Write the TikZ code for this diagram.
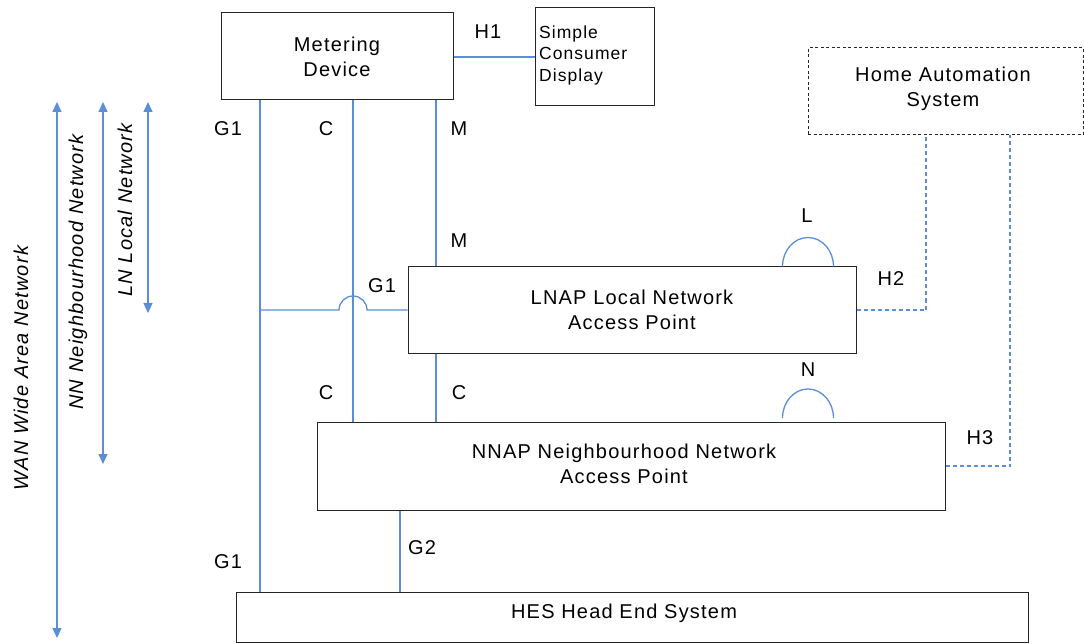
\documentclass[tikz,border=0pt]{standalone}
\usepackage{fontspec}
\setmainfont{Liberation Sans}[LetterSpace=6]
\usetikzlibrary{arrows.meta,calc}
\definecolor{lnblue}{HTML}{5B8ED6}
\begin{document}
\begin{tikzpicture}[x=1pt,y=-1pt,
  box/.style={draw=black!85, line width=1pt, inner sep=0pt, align=center, font=\fontsize{20}{25}\selectfont},
  dbox/.style={box, dashed, dash pattern=on 3pt off 2.5pt},
  lnk/.style={draw=lnblue, line width=1.3pt},
  dlnk/.style={lnk, dash pattern=on 4pt off 3pt},
  lab/.style={font=\fontsize{20}{22}\selectfont, inner sep=1pt},
  rng/.style={lnk, {Triangle[width=9pt,length=10pt]}-{Triangle[width=9pt,length=10pt]}},
  rlab/.style={font=\itshape\fontsize{20}{22}\selectfont, rotate=90, inner sep=0pt, anchor=base}]
\useasboundingbox (0,0) rectangle (1084,644);
% boxes
\node[box, minimum width=232, minimum height=87] (md) at (337,56.5) {Metering\\Device};
\node[box, minimum width=119, minimum height=98] (scd) at (594.5,57) {};
\node[anchor=west, align=left, font=\fontsize{17.5}{21.5}\selectfont, inner sep=0pt] (scdt) at (539,55) {Simple\\Consumer\\Display};
\node[dbox, minimum width=275, minimum height=87] (has) at (945.5,91.5) {};
\node[font=\fontsize{20}{25}\selectfont, align=center, inner sep=0pt] (hast) at (943,88.5) {Home Automation\\System};
\node[box, minimum width=448, minimum height=86] (lnap) at (632,310) {LNAP Local Network\\Access Point};
\node[box, minimum width=628, minimum height=88] (nnap) at (631,466) {};
\node[font=\fontsize{20}{25}\selectfont, align=center, inner sep=0pt] (nnapt) at (624,463.5) {NNAP Neighbourhood Network\\Access Point};
\node[box, minimum width=792, minimum height=50] (hes) at (632,617) {};
\node[font=\fontsize{20}{25}\selectfont, inner sep=0pt] (hest) at (624,613) {HES Head End System};
% x positions
\coordinate (xg1) at (260,0);
\coordinate (xc) at (353,0);
\coordinate (xm) at (436,0);
\coordinate (xg2) at (400,0);
\coordinate (xh2) at (926,0);
\coordinate (xh3) at (1010,0);
\coordinate (xl) at (808,0);
\coordinate (yn) at (0,418);
% solid links
\draw[lnk] (xg1 |- md.south) -- (xg1 |- hes.north);
\draw[lnk] (xc |- md.south) -- (xc |- nnap.north);
\draw[lnk] (xm |- md.south) -- (xm |- lnap.north);
\draw[lnk] (xm |- lnap.south) -- (xm |- nnap.north);
\draw[lnk] (xg2 |- nnap.south) -- (xg2 |- hes.north);
\draw[lnk] (md.east |- scd.west) -- (scd.west);
\draw[lnk] (xg1 |- lnap.west) -- ([xshift=-14pt]xc |- lnap.west) arc[start angle=180, end angle=360, radius=14] -- (lnap.west);
\draw[lnk] ([xshift=-25.5pt]xl |- lnap.north) arc[start angle=180, end angle=360, x radius=25.5, y radius=29];
\draw[lnk] ([xshift=-25.5pt]xl |- yn) arc[start angle=180, end angle=360, x radius=25.5, y radius=29];
% dashed links
\draw[dlnk] (lnap.east) -- (xh2 |- lnap.east) -- (xh2 |- has.south);
\draw[dlnk] (nnap.east) -- (xh3 |- nnap.east) -- (xh3 |- has.south);
% labels
\node[lab] (lh1) at (488,32) {H1};
\node[lab] (lg1a) at (228,129) {G1};
\node[lab] (lca) at (326,129) {C};
\node[lab] (lma) at (459,129) {M};
\node[lab] (lmb) at (459,241) {M};
\node[lab] (ll) at (807,216) {L};
\node[lab] (lg1b) at (382,286) {G1};
\node[lab] (lh2) at (891,279) {H2};
\node[lab] (lcb) at (326,393) {C};
\node[lab] (lcc) at (459,393) {C};
\node[lab] (ln) at (808,370) {N};
\node[lab] (lh3) at (980,438) {H3};
\node[lab] (lg1c) at (228,562) {G1};
\node[lab] (lg2) at (422,548) {G2};
% range arrows
\coordinate (wt) at (57,102);
\coordinate (wb) at (57,638);
\coordinate (nt) at (103,102);
\coordinate (nb) at (103,464);
\coordinate (lt) at (148,102);
\coordinate (lb) at (148,313);
\draw[rng] (wt) -- (wb);
\draw[rng] (nt) -- (nb);
\draw[rng] (lt) -- (lb);
\node[rlab] (wl) at (28,368) {WAN Wide Area Network};
\node[rlab] (nl) at (83,272) {NN Neighbourhood Network};
\node[rlab] (ll2) at (132,210) {LN Local Network};
\end{tikzpicture}
\end{document}
